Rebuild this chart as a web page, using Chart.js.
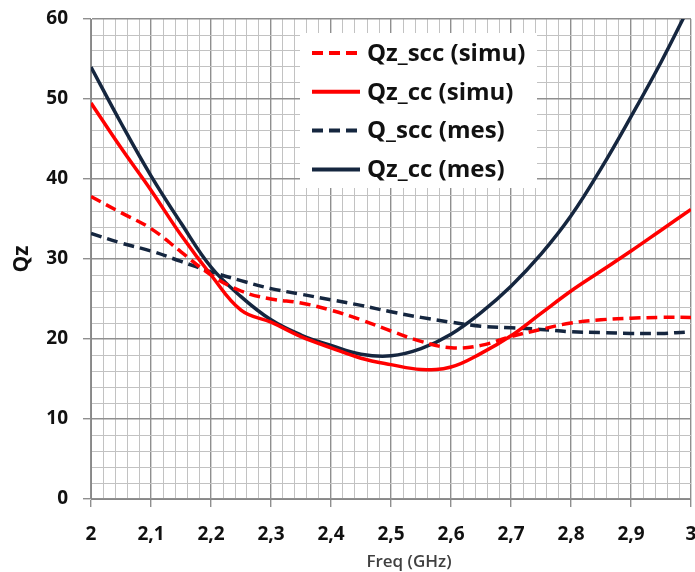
<!DOCTYPE html>
<html>
<head>
<meta charset="utf-8">
<script src="https://cdn.jsdelivr.net/npm/chart.js@4.4.1/dist/chart.umd.min.js"></script>
<style>
  body { margin: 0; background: #fff; }
  #wrap { width: 695px; height: 572px; }
</style>
</head>
<body>
<div id="wrap"><canvas id="qzChart" width="695" height="572"></canvas></div>
<script>
// frequencies (GHz)
const freq = [2.00, 2.05, 2.10, 2.15, 2.20, 2.25, 2.30, 2.35, 2.40, 2.45, 2.50,
              2.55, 2.60, 2.65, 2.70, 2.75, 2.80, 2.85, 2.90, 2.95, 3.00];

// series
const qzSccSimu = [37.8, 35.8, 33.8, 30.9, 28.0, 26.0, 25.0, 24.5, 23.6, 22.4, 21.0,
                   19.7, 18.9, 19.2, 20.3, 21.2, 22.0, 22.4, 22.6, 22.7, 22.7];
const qzCcSimu  = [49.5, 43.9, 38.6, 33.0, 28.0, 23.6, 22.1, 20.3, 18.9, 17.6, 16.8,
                   16.2, 16.5, 18.2, 20.4, 23.2, 26.0, 28.5, 31.0, 33.6, 36.2];
const qSccMes   = [33.2, 32.0, 31.0, 29.7, 28.4, 27.3, 26.3, 25.6, 24.9, 24.2, 23.4,
                   22.7, 22.1, 21.6, 21.4, 21.2, 20.9, 20.8, 20.7, 20.7, 20.9];
const qzCcMes   = [54.0, 47.0, 40.4, 34.5, 29.0, 25.3, 22.4, 20.5, 19.2, 18.1, 17.9,
                   18.8, 20.6, 23.3, 26.6, 30.6, 35.4, 41.3, 47.8, 54.6, 62.0];

const seriesLabels = ['Qz_scc (simu)', 'Qz_cc (simu)', 'Q_scc (mes)', 'Qz_cc (mes)'];
const xTickLabels = ['2', '2,1', '2,2', '2,3', '2,4', '2,5', '2,6', '2,7', '2,8', '2,9', '3'];
const yTickLabels = ['0', '10', '20', '30', '40', '50', '60'];

const RED = '#ff0000';
const NAVY = '#15263f';
const FONT = '"Open Sans", "DejaVu Sans", sans-serif';

function pts(values) {
  return freq.map((f, i) => ({ x: f, y: values[i] }));
}

const isMajorX = v => Math.round(v * 50) % 5 === 0;
const isMajorY = v => Math.round(v / 2) % 5 === 0;

// legend drawn inside the plot, on a white box
const boxLegend = {
  id: 'boxLegend',
  afterDatasetsDraw(chart) {
    const ctx = chart.ctx;
    ctx.save();
    ctx.fillStyle = '#fff';
    ctx.fillRect(300, 33, 237, 155);
    ctx.font = 'bold 24px ' + FONT;
    ctx.textBaseline = 'middle';
    ctx.textAlign = 'left';
    chart.data.datasets.forEach((ds, i) => {
      const y = 53 + i * 38.8;
      ctx.strokeStyle = ds.borderColor;
      ctx.lineWidth = 4;
      ctx.setLineDash(ds.borderDash || []);
      ctx.beginPath();
      ctx.moveTo(312, y);
      ctx.lineTo(360, y);
      ctx.stroke();
      ctx.setLineDash([]);
      ctx.fillStyle = '#111';
      ctx.fillText(ds.label, 367, y + 1);
    });
    // x axis title
    ctx.font = '600 17px ' + FONT;
    ctx.fillStyle = '#404040';
    ctx.textAlign = 'center';
    ctx.fillText('Freq (GHz)', 409, 562);
    ctx.restore();
  }
};

const chart = new Chart(document.getElementById('qzChart'), {
  type: 'line',
  data: {
    datasets: [
      { label: seriesLabels[0], data: pts(qzSccSimu), borderColor: RED, borderDash: [11, 6] },
      { label: seriesLabels[1], data: pts(qzCcSimu), borderColor: RED },
      { label: seriesLabels[2], data: pts(qSccMes), borderColor: NAVY, borderDash: [11, 6] },
      { label: seriesLabels[3], data: pts(qzCcMes), borderColor: NAVY }
    ]
  },
  options: {
    responsive: false,
    animation: false,
    layout: { padding: { top: 19, right: 4, left: 0, bottom: 0 } },
    elements: {
      point: { radius: 0 },
      line: { borderWidth: 3.5, tension: 0.4, fill: false }
    },
    plugins: {
      legend: { display: false },
      tooltip: { enabled: false }
    },
    scales: {
      x: {
        type: 'linear',
        min: 2,
        max: 3,
        afterFit: s => { s.height = 73; s.paddingLeft = 0; s.paddingRight = 0; },
        border: { display: true, color: '#888', width: 1 },
        grid: {
          color: c => isMajorX(c.tick.value) ? '#8f8f8f' : '#c2c2c2',
          lineWidth: c => isMajorX(c.tick.value) ? 1.4 : 1,
          tickColor: c => isMajorX(c.tick.value) ? '#8f8f8f' : 'rgba(0,0,0,0)',
          tickLength: 8
        },
        ticks: {
          stepSize: 0.02,
          autoSkip: false,
          maxRotation: 0,
          padding: 16,
          color: '#111',
          font: { family: FONT, size: 19, weight: 'bold' },
          callback: (v) => isMajorX(v) ? xTickLabels[Math.round((v - 2) * 10)] : ''
        }
      },
      y: {
        min: 0,
        max: 60,
        afterFit: s => { s.width = 91; s.paddingTop = 0; s.paddingBottom = 0; },
        border: { display: true, color: '#888', width: 1 },
        grid: {
          color: c => isMajorY(c.tick.value) ? '#8f8f8f' : '#c2c2c2',
          lineWidth: c => isMajorY(c.tick.value) ? 1.4 : 1,
          tickColor: c => isMajorY(c.tick.value) ? '#8f8f8f' : 'rgba(0,0,0,0)',
          tickLength: 8
        },
        ticks: {
          stepSize: 2,
          autoSkip: false,
          padding: 15,
          color: '#111',
          font: { family: FONT, size: 19, weight: 'bold' },
          callback: (v) => isMajorY(v) ? yTickLabels[Math.round(v / 10)] : ''
        },
        title: {
          display: true,
          text: 'Qz',
          color: '#111',
          padding: { top: 9, bottom: 0 },
          font: { family: FONT, size: 21, weight: 'bold' }
        }
      }
    }
  },
  plugins: [boxLegend]
});
</script>
</body>
</html>
